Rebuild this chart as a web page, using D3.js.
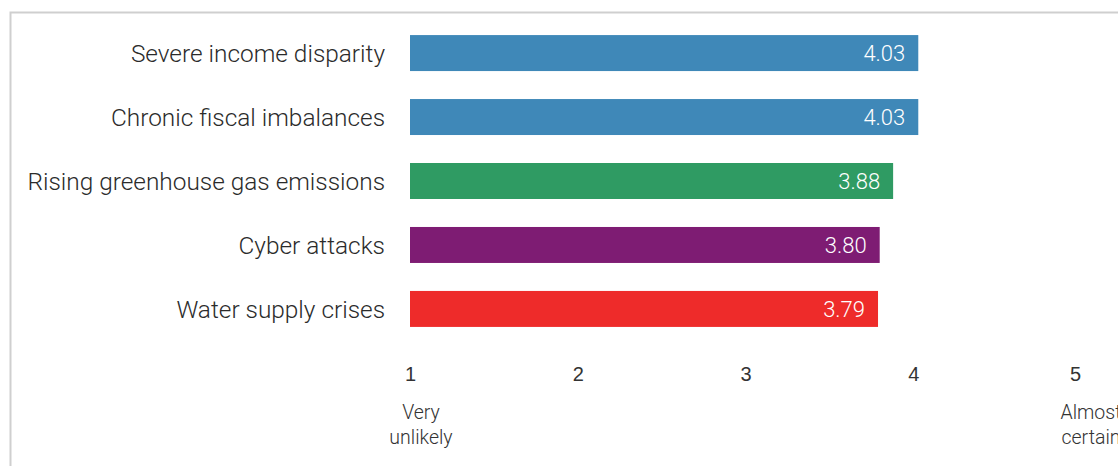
<!DOCTYPE html>
<html>
<head>
  <meta charset="utf-8">
  <script src="https://cdnjs.cloudflare.com/ajax/libs/d3/7.8.5/d3.min.js"></script>
  <style>
    body { margin: 0; background: #fff; font-family: Roboto, "Liberation Sans", sans-serif; }
    .label { fill: #2b2b2b; font-size: 24.4px; font-weight: 300; }
    .val { fill: #fff; font-size: 22px; font-weight: 300; }
    .tick text { fill: #333; font-size: 20px; font-weight: 300; }
    .end { fill: #333; font-size: 19.5px; font-weight: 300; }
  </style>
</head>
<body>
<script>
var risks = ["Severe income disparity", "Chronic fiscal imbalances", "Rising greenhouse gas emissions", "Cyber attacks", "Water supply crises"];
var scores = [4.03, 4.03, 3.88, 3.80, 3.79];
var colors = ["#3f88b8", "#3f88b8", "#2f9b63", "#7e1c73", "#ee2b2a"];
var ticks = [1, 2, 3, 4, 5];
var endLabels = [["Very", "unlikely"], ["Almost", "certain"]];

var W = 1118, H = 466;
var svg = d3.select("body").append("svg").attr("width", W).attr("height", H);

// frame
svg.append("path").attr("d", "M10.5," + H + "V12.5H" + W)
  .attr("fill", "none").attr("stroke", "#cfcfcf").attr("stroke-width", 2);

var x = d3.scaleLinear().domain([1, 5]).range([410, 1081]);
var y = d3.scaleBand().domain(risks).range([21, 341]).paddingInner(0.4375).paddingOuter(0.22);

svg.selectAll("rect.bar").data(risks).enter().append("rect")
  .attr("class", "bar")
  .attr("x", x(1))
  .attr("y", function(d) { return y(d); })
  .attr("width", function(d, i) { return x(scores[i]) - x(1); })
  .attr("height", y.bandwidth())
  .attr("fill", function(d, i) { return colors[i]; });

svg.selectAll("text.val").data(risks).enter().append("text")
  .attr("class", "val")
  .attr("x", function(d, i) { return x(scores[i]) - 13; })
  .attr("y", function(d) { return y(d) + y.bandwidth() / 2; })
  .attr("dy", "0.36em")
  .attr("text-anchor", "end")
  .text(function(d, i) { return scores[i].toFixed(2); });

svg.selectAll("text.label").data(risks).enter().append("text")
  .attr("class", "label")
  .attr("x", 385)
  .attr("y", function(d) { return y(d) + y.bandwidth() / 2; })
  .attr("dy", "0.36em")
  .attr("text-anchor", "end")
  .text(function(d) { return d; });

var axis = d3.axisBottom(x).tickValues(ticks).tickSize(0).tickPadding(0).tickFormat(d3.format("d"));
var g = svg.append("g").attr("transform", "translate(0,371)").call(axis);
g.select(".domain").remove();
g.selectAll(".tick text").attr("dy", "0.5em").attr("font-family", null).attr("font-size", null);
// the "5" sits a little left of its gridpoint in the original
g.selectAll(".tick").filter(function(d) { return d === 5; }).select("text").attr("x", -6);

endLabels.forEach(function(lines, k) {
  var cx = k === 0 ? x(1) + 11 : x(5) + 10;
  var t = svg.append("text").attr("class", "end").attr("text-anchor", "middle").attr("y", 419);
  lines.forEach(function(s, j) {
    t.append("tspan").attr("x", cx).attr("dy", j ? "1.3em" : 0).text(s);
  });
});
</script>
</body>
</html>
